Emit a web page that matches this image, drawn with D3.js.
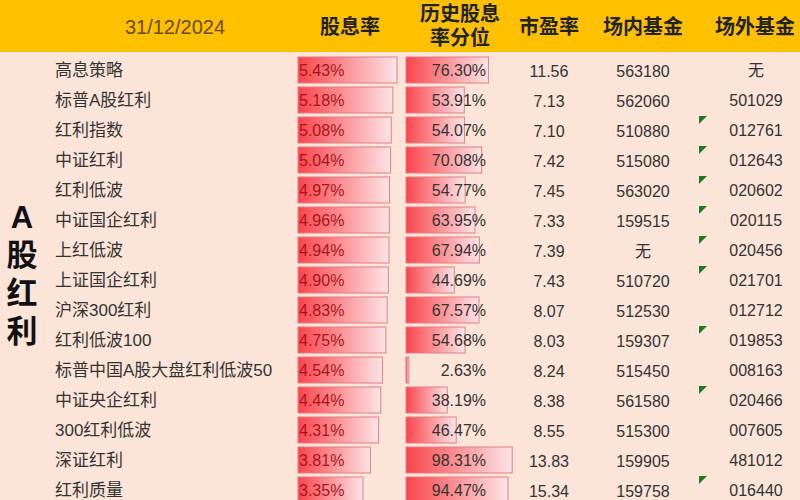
<!DOCTYPE html>
<html><head><meta charset="utf-8">
<script src="https://cdn.jsdelivr.net/npm/d3@7"></script>
<style>body{margin:0;background:#fce4d8}svg{display:block;font-family:"Liberation Sans","Noto Sans CJK SC",sans-serif}</style>
</head><body><svg id="chart" width="800" height="500"></svg>
<script>
// table data
var names   = ["高息策略","标普A股红利","红利指数","中证红利","红利低波","中证国企红利","上红低波","上证国企红利","沪深300红利","红利低波100","标普中国A股大盘红利低波50","中证央企红利","300红利低波","深证红利","红利质量"];
var yieldPct = [5.43,5.18,5.08,5.04,4.97,4.96,4.94,4.90,4.83,4.75,4.54,4.44,4.31,3.81,3.35];
var pctRank  = [76.30,53.91,54.07,70.08,54.77,63.95,67.94,44.69,67.57,54.68,2.63,38.19,46.47,98.31,94.47];
var pe       = ["11.56","7.13","7.10","7.42","7.45","7.33","7.39","7.43","8.07","8.03","8.24","8.38","8.55","13.83","15.34"];
var onFund   = ["563180","562060","510880","515080","563020","159515","无","510720","512530","159307","515450","561580","515300","159905","159758"];
var offFund  = ["无","501029","012761","012643","020602","020115","020456","021701","012712","019853","008163","020466","007605","481012","016440"];
var flagged  = [2,3,4,5,6,7,9,11,14];
var headers  = [["股息率",350],["历史股息|率分位",460],["市盈率",549],["场内基金",643],["场外基金",755]];

var svg = d3.select("#chart");
var y = d3.scaleBand().domain(d3.range(names.length)).range([55,505]);
var xY = d3.scaleLinear().domain([0,5.43]).range([10,99]);
var xP = d3.scaleLinear().domain([0,100]).range([0,108]);

svg.append("rect").attr("width",800).attr("height",500).attr("fill","#fce4d8");
svg.append("rect").attr("width",800).attr("height",52).attr("fill","#ffc000");
svg.append("text").attr("x",175).attr("y",34).attr("text-anchor","middle")
  .attr("font-size",20).attr("fill","#6b4a00").text("31/12/2024");
headers.forEach(function(h){
  var lines = h[0].split("|");
  lines.forEach(function(l,i){
    svg.append("text").attr("x",h[1]).attr("text-anchor","middle")
      .attr("y", lines.length>1 ? 21+i*24 : 34)
      .attr("font-size",20).attr("font-weight","bold").attr("fill","#222").text(l);
  });
});

var defs = svg.append("defs");
var g = defs.append("linearGradient").attr("id","bar");
g.append("stop").attr("offset","0%").attr("stop-color","#f8454b");
g.append("stop").attr("offset","100%").attr("stop-color","#fde4e6");

// vertical group label
"A股红利".split("").forEach(function(c,i){
  svg.append("text").attr("x",22).attr("y",228+i*38).attr("text-anchor","middle")
    .attr("font-size",31).attr("font-weight","bold").attr("fill","#111").text(c);
});

var row = svg.selectAll("g.row").data(names).join("g").attr("class","row")
  .attr("transform",function(d,i){return "translate(0,"+y(i)+")";});
var h = y.bandwidth();

row.append("text").attr("x",55).attr("y",h/2+6).attr("font-size",17).attr("fill","#333").text(function(d){return d;});
row.append("rect").attr("x",298).attr("y",2).attr("height",h-4)
  .attr("width",function(d,i){return xY(yieldPct[i]);})
  .attr("fill","url(#bar)").attr("stroke","#e07f86").attr("stroke-width",1);
row.append("text").attr("x",299).attr("y",h/2+6).attr("font-size",16).attr("fill","#a8141c")
  .text(function(d,i){return yieldPct[i].toFixed(2)+"%";});
row.append("rect").attr("x",406).attr("y",2).attr("height",h-4)
  .attr("width",function(d,i){return xP(pctRank[i]);})
  .attr("fill","url(#bar)").attr("stroke","#e07f86").attr("stroke-width",1);
row.append("text").attr("x",486).attr("y",h/2+6).attr("text-anchor","end").attr("font-size",16).attr("fill","#333")
  .text(function(d,i){return pctRank[i].toFixed(2)+"%";});
row.append("text").attr("x",549).attr("y",h/2+7).attr("text-anchor","middle").attr("font-size",16).attr("fill","#333")
  .text(function(d,i){return pe[i];});
row.append("text").attr("x",643).attr("y",h/2+7).attr("text-anchor","middle").attr("font-size",16).attr("fill","#333")
  .text(function(d,i){return onFund[i];});
row.append("text").attr("x",756).attr("y",h/2+6).attr("text-anchor","middle").attr("font-size",16).attr("fill","#333")
  .text(function(d,i){return offFund[i];});
row.filter(function(d,i){return flagged.indexOf(i)>=0;}).append("path")
  .attr("d","M699,1 L707,1 L699,9 Z").attr("fill","#1e7a1e");
</script></body></html>
